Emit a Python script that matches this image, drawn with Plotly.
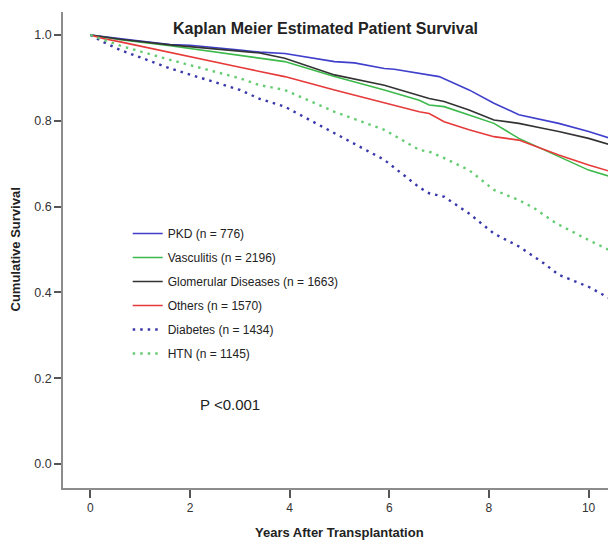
import plotly.graph_objects as go

# ---- data ----
pkd_t = [0, 0.6, 1.0, 1.6, 2.0, 3.0, 3.4, 3.9, 4.9, 5.3, 5.9, 6.1, 6.8, 7.0, 7.6, 8.1, 8.6, 9.1, 9.4, 10.0, 10.55]
pkd_s = [1.0, 0.991, 0.986, 0.978, 0.976, 0.965, 0.960, 0.957, 0.938, 0.935, 0.922, 0.920, 0.907, 0.903, 0.872, 0.841, 0.814, 0.802, 0.794, 0.775, 0.755]

vas_t = [0, 0.6, 1.6, 3.0, 3.4, 3.9, 4.9, 5.9, 6.6, 6.8, 7.1, 7.6, 8.1, 8.6, 9.1, 9.4, 10.0, 10.55]
vas_s = [1.0, 0.989, 0.975, 0.953, 0.946, 0.938, 0.903, 0.872, 0.848, 0.837, 0.833, 0.814, 0.794, 0.759, 0.732, 0.716, 0.685, 0.666]

glo_t = [0, 0.6, 1.6, 3.0, 3.4, 3.9, 4.9, 5.9, 6.6, 6.8, 7.1, 7.6, 8.1, 8.6, 9.1, 9.4, 10.0, 10.55]
glo_s = [1.0, 0.990, 0.977, 0.961, 0.958, 0.946, 0.907, 0.883, 0.860, 0.852, 0.845, 0.825, 0.802, 0.794, 0.782, 0.775, 0.759, 0.740]

oth_t = [0, 0.25, 0.6, 1.6, 3.0, 3.4, 3.9, 4.9, 5.9, 6.6, 6.8, 7.1, 7.6, 8.1, 8.6, 9.1, 9.4, 10.0, 10.55]
oth_s = [1.0, 0.992, 0.984, 0.960, 0.925, 0.915, 0.903, 0.872, 0.841, 0.821, 0.817, 0.798, 0.779, 0.763, 0.755, 0.732, 0.720, 0.697, 0.678]

dia_t = [0, 0.25, 0.6, 1.6, 3.0, 3.4, 3.9, 4.9, 5.9, 6.6, 6.8, 7.1, 7.6, 8.1, 8.6, 9.1, 9.4, 10.0, 10.55]
dia_s = [1.0, 0.984, 0.965, 0.922, 0.872, 0.851, 0.833, 0.771, 0.709, 0.645, 0.631, 0.623, 0.584, 0.537, 0.507, 0.468, 0.441, 0.413, 0.378]

htn_t = [0, 0.6, 1.6, 3.0, 3.4, 3.9, 4.9, 5.9, 6.6, 6.8, 7.1, 7.6, 8.1, 8.6, 8.9, 9.35, 10.0, 10.55]
htn_s = [1.0, 0.975, 0.942, 0.899, 0.883, 0.872, 0.821, 0.779, 0.732, 0.728, 0.713, 0.685, 0.639, 0.615, 0.597, 0.561, 0.522, 0.491]

names = ["PKD (n = 776)", "Vasculitis (n = 2196)", "Glomerular Diseases (n = 1663)",
         "Others (n = 1570)", "Diabetes (n = 1434)", "HTN (n = 1145)"]
x_ticks = [0, 2, 4, 6, 8, 10]
y_ticks = [0.0, 0.2, 0.4, 0.6, 0.8, 1.0]

FONT = "Liberation Sans, Arial, sans-serif"

series = [
    (pkd_t, pkd_s, "#3f3fcc", "solid", 1.6),
    (vas_t, vas_s, "#3cb94a", "solid", 1.6),
    (glo_t, glo_s, "#333333", "solid", 1.6),
    (oth_t, oth_s, "#e63a3a", "solid", 1.6),
    (dia_t, dia_s, "#3838aa", "2.5px,5px", 2.4),
    (htn_t, htn_s, "#66cc72", "2.5px,5px", 2.4),
]

fig = go.Figure()
for i, (t, s, c, d, w) in enumerate(series):
    fig.add_trace(go.Scatter(
        x=t, y=s, mode="lines", name=names[i], legendgroup=str(i),
        line=dict(color=c, dash=d, width=w),
    ))

# page body has an 8px margin, so the figure is 8px smaller than the window
fig.update_layout(
    width=608, height=532,
    margin=dict(l=55, r=0, t=4, b=52),
    paper_bgcolor="white", plot_bgcolor="white",
    font=dict(family=FONT, size=12, color="#333333"),
    showlegend=True,
    legend=dict(x=0.117, y=0.565, xanchor="left", yanchor="top",
                bgcolor="rgba(0,0,0,0)", font=dict(size=12, color="#222222"),
                itemwidth=30, tracegroupgap=5, traceorder="grouped"),
    xaxis=dict(range=[-0.55, 10.55], tickvals=x_ticks, ticktext=[str(v) for v in x_ticks],
               showgrid=False, zeroline=False, showline=True, linecolor="#8c8c8c", linewidth=1.5,
               ticks="outside", ticklen=8, tickwidth=1.5, tickcolor="#555555",
               tickfont=dict(size=12, color="#333333")),
    yaxis=dict(range=[-0.056, 1.0536], tickvals=y_ticks, ticktext=["%.1f" % v for v in y_ticks],
               showgrid=False, zeroline=False, showline=True, linecolor="#8c8c8c", linewidth=1.5,
               ticks="outside", ticklen=7, tickwidth=1.5, tickcolor="#555555",
               tickfont=dict(size=12.5, color="#333333")),
    annotations=[
        dict(text="<b>Kaplan Meier Estimated Patient Survival</b>", xref="paper", yref="paper",
             x=0.4753, y=0.9643, xanchor="center", yanchor="middle", showarrow=False,
             font=dict(size=16, color="#222222")),
        dict(text="P <0.001", xref="x", yref="y", x=2.15, y=0.1375, xanchor="left",
             yanchor="middle", showarrow=False, font=dict(size=15, color="#222222")),
        dict(text="<b>Years After Transplantation</b>", xref="paper", yref="paper",
             x=0.5, y=-0.0945, xanchor="center", yanchor="middle", showarrow=False,
             font=dict(size=13, color="#222222")),
        dict(text="<b>Cumulative Survival</b>", xref="paper", yref="paper",
             x=-0.0877, y=0.5, xanchor="center", yanchor="middle", showarrow=False,
             textangle=-90, font=dict(size=13, color="#222222")),
    ],
)

fig.write_html("out.html")
